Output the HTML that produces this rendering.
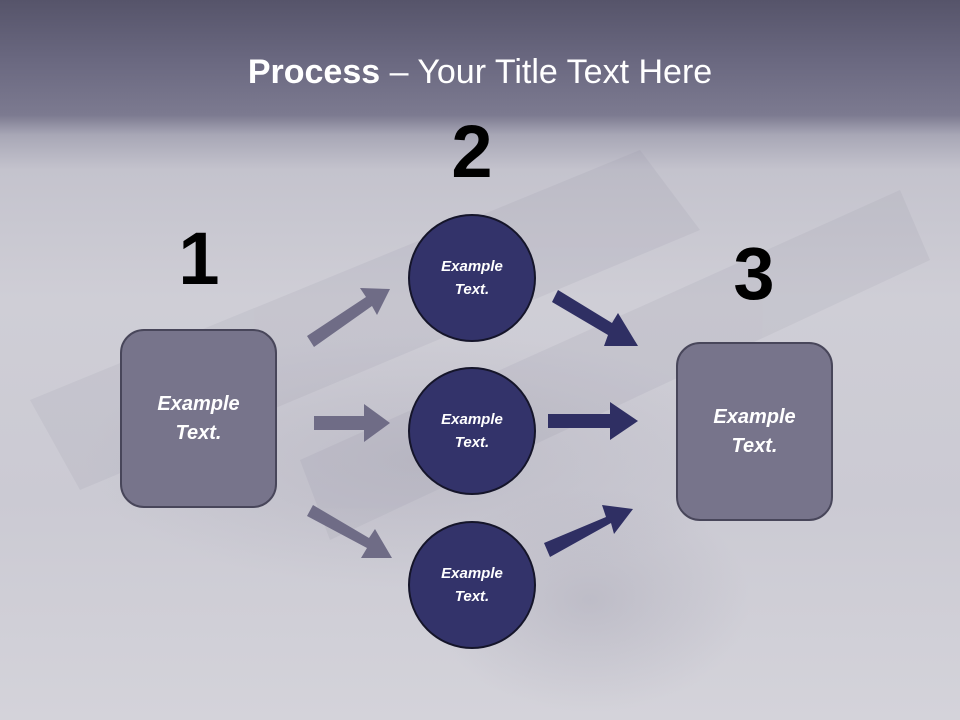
<!DOCTYPE html>
<html><head><meta charset="utf-8"><style>
html,body{margin:0;padding:0}
body{width:960px;height:720px;position:relative;overflow:hidden;font-family:"Liberation Sans",sans-serif;
background:linear-gradient(180deg,#56546a 0px,#6a6880 60px,#7c7a90 115px,#a8a7b6 135px,#c4c3cd 170px,#cfced6 300px,#cbcad3 500px,#d4d3da 720px);}
.bg2{position:absolute;left:0;top:130px;width:960px;height:590px;
background:radial-gradient(ellipse 420px 160px at 420px 330px,rgba(170,168,182,0.4),rgba(0,0,0,0) 80%),
radial-gradient(ellipse 200px 140px at 590px 470px,rgba(150,148,165,0.3),rgba(0,0,0,0) 80%);}
.title{position:absolute;top:53px;left:0;width:960px;text-align:center;color:#fff;font-size:34px;}
.num{position:absolute;font-weight:bold;font-size:74px;color:#000;line-height:1;transform:translateX(-50%)}
.box{position:absolute;background:#77748b;border:2px solid #48465a;border-radius:24px;box-sizing:border-box;
color:#fff;font-weight:bold;font-style:italic;font-size:20px;display:flex;align-items:center;justify-content:center;text-align:center;line-height:29px}
.c{position:absolute;width:128px;height:128px;border-radius:50%;background:#33336a;border:2px solid #15152a;box-sizing:border-box;
color:#fff;font-weight:bold;font-style:italic;font-size:15px;display:flex;align-items:center;justify-content:center;text-align:center;line-height:23px}
</style></head><body>
<div class="bg2"></div>
<svg style="position:absolute;left:0;top:0" width="960" height="720">
<g opacity="0.12" fill="#8a889c">
<polygon points="30,400 640,150 700,230 80,490"/>
<polygon points="300,460 900,190 930,260 330,540"/>
</g>
<g fill="#6f6c86">
<polygon points="307,336 366,297 360,288 390,289 377,315 372,306 314,347"/>
<polygon points="314,416 364,416 364,404 390,423 364,442 364,430 314,430"/>
<polygon points="313,505 369,538 375,529 392,558 361,558 367,548 307,516"/>
</g>
<g fill="#2f2f63">
<polygon points="558,290 612,323 618,313 638,346 604,346 608,335 552,302"/>
<polygon points="548,414 610,414 610,402 638,421 610,440 610,428 548,428"/>
<polygon points="544,543 606,517 602,505 633,509 614,534 611,523 550,557"/>
</g>
</svg>
<div class="title"><b>Process</b> – Your Title Text Here</div>
<div class="num" style="left:199px;top:222px">1</div>
<div class="num" style="left:472px;top:115px">2</div>
<div class="num" style="left:754px;top:237px">3</div>
<div class="box" style="left:120px;top:329px;width:157px;height:179px">Example<br>Text.</div>
<div class="box" style="left:676px;top:342px;width:157px;height:179px">Example<br>Text.</div>
<div class="c" style="left:408px;top:214px">Example<br>Text.</div>
<div class="c" style="left:408px;top:367px">Example<br>Text.</div>
<div class="c" style="left:408px;top:521px">Example<br>Text.</div>
</body></html>
